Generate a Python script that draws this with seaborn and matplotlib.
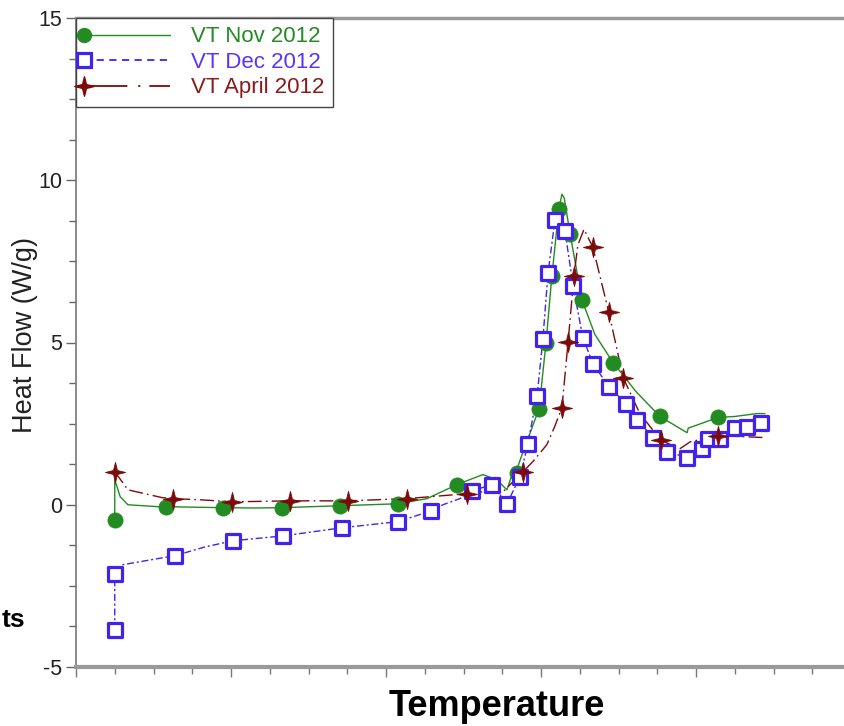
import numpy as np
import pandas as pd
import matplotlib
matplotlib.use("Agg")
import matplotlib.pyplot as plt
from matplotlib.lines import Line2D
from matplotlib.path import Path
import seaborn as sns

# ---------------- data ----------------
series_labels = ["VT Nov 2012", "VT Dec 2012", "VT April 2012"]

# markers
nov_x = [1.0, 2.32, 3.79, 5.32, 6.81, 8.31, 9.83, 11.38, 11.95, 12.13, 12.28, 12.46, 12.75, 13.06, 13.86, 15.07, 16.57]
nov_y = [-0.46, -0.06, -0.09, -0.09, -0.03, 0.03, 0.62, 0.99, 2.96, 5.00, 7.04, 9.10, 8.35, 6.30, 4.38, 2.72, 2.69]

dec_x = [1.0, 1.0, 2.55, 4.05, 5.34, 6.86, 8.31, 9.16, 10.22, 10.74, 11.12, 11.46, 11.66, 11.90, 12.05, 12.18,
         12.36, 12.62, 12.83, 13.08, 13.34, 13.75, 14.19, 14.48, 14.89, 15.25, 15.77, 16.15, 16.31, 16.62, 17.01, 17.32, 17.68]
dec_y = [-3.86, -2.13, -1.57, -1.11, -0.96, -0.71, -0.52, -0.19, 0.43, 0.62, 0.03, 0.86, 1.88, 3.36, 5.12, 7.13,
         8.77, 8.43, 6.73, 5.15, 4.35, 3.64, 3.12, 2.62, 2.07, 1.64, 1.45, 1.73, 2.04, 2.04, 2.35, 2.41, 2.53]

apr_x = [1.0, 2.50, 4.03, 5.52, 7.02, 8.54, 10.09, 11.54, 12.54, 12.70, 12.85, 13.34, 13.75, 14.12, 15.10, 16.57]
apr_y = [1.02, 0.19, 0.09, 0.12, 0.12, 0.19, 0.34, 1.02, 2.99, 5.03, 7.04, 7.93, 5.93, 3.92, 1.98, 2.13]

# traced curves
nov_line_x = [1.0, 1.0, 1.14, 1.34, 2.12, 2.32, 3.79, 4.6, 5.32, 6.81, 8.31, 9.06, 9.83, 10.50, 10.86, 11.12, 11.28,
              11.38, 11.51, 11.95, 12.13, 12.28, 12.46, 12.54, 12.60, 12.75, 13.06, 13.39, 13.86, 14.45, 15.07, 15.77,
              15.80, 16.57, 17.00, 17.57, 17.78]
nov_line_y = [-0.46, 0.77, 0.25, 0.0, -0.06, -0.06, -0.09, -0.10, -0.09, -0.03, 0.03, 0.19, 0.62, 0.93, 0.77, 0.46, 1.02,
              1.10, 1.54, 2.96, 5.00, 7.04, 9.10, 9.57, 9.45, 8.35, 6.30, 5.25, 4.38, 3.49, 2.72, 2.22,
              2.36, 2.69, 2.72, 2.81, 2.81]

dec_line_x = [1.0, 1.0, 1.19, 2.55, 3.33, 4.05, 5.34, 6.86, 8.31, 9.16, 9.47, 9.91, 10.22, 10.74, 11.12, 11.46, 11.66,
              11.90, 12.05, 12.18, 12.36, 12.43, 12.50, 12.62, 12.83, 13.08, 13.34, 13.75, 14.19, 14.48, 14.89, 15.25,
              15.77, 16.15, 16.31, 16.62, 17.01, 17.32, 17.68]
dec_line_y = [-3.86, -2.13, -1.85, -1.57, -1.30, -1.11, -0.96, -0.71, -0.52, -0.19, 0.0, 0.19, 0.43, 0.62, 0.03, 0.86, 1.88,
              3.36, 5.12, 7.13, 8.77, 8.95, 8.85, 8.43, 6.73, 5.15, 4.35, 3.64, 3.12, 2.62, 2.07, 1.64,
              1.45, 1.73, 2.04, 2.04, 2.35, 2.41, 2.53]

apr_line_x = [1.0, 1.34, 2.22, 2.50, 3.25, 4.03, 5.52, 7.02, 8.54, 10.09, 10.50, 11.02, 11.46, 11.54, 11.79, 12.15,
              12.35, 12.54, 12.70, 12.85, 12.95, 13.11, 13.34, 13.75, 14.12, 14.55, 15.10, 15.59, 15.85, 16.57, 17.78]
apr_line_y = [1.02, 0.46, 0.22, 0.19, 0.15, 0.09, 0.12, 0.12, 0.19, 0.34, 0.40, 0.40, 0.93, 1.02, 1.33, 1.85,
              2.40, 2.99, 5.03, 7.04, 8.00, 8.49, 7.93, 5.93, 3.92, 2.81, 1.98, 1.73, 1.94, 2.13, 2.07]

y_ticks = [-5, 0, 5, 10, 15]
y_tick_labels = ["-5", "0", "5", "10", "15"]

# ---------------- style ----------------
sns.set_theme(style="white")
plt.rcParams["font.family"] = ["Liberation Sans", "DejaVu Sans"]

c_nov = "#228b22"
c_dec = "#4422ee"
c_apr = "#7d0a0a"
spine_c = "#9a9a9a"

# slim four-pointed star marker
_ang = np.deg2rad(np.arange(90, 450, 45))
_rad = np.array([1.0, 0.28] * 4)
_verts = np.column_stack([_rad * np.cos(_ang), _rad * np.sin(_ang)])
_verts = np.vstack([_verts, _verts[:1]])
star4 = Path(_verts, closed=True)

fig = plt.figure(figsize=(8.44, 7.26), dpi=100)
ax = fig.add_axes([76 / 844, 59 / 726, 775 / 844, 649 / 726])

# lines
sns.lineplot(x=nov_line_x, y=nov_line_y, ax=ax, sort=False, estimator=None, color=c_nov, lw=1.0, zorder=2)
sns.lineplot(x=dec_line_x, y=dec_line_y, ax=ax, sort=False, estimator=None, color=c_dec, lw=1.0, zorder=3)
ax.lines[-1].set_dashes((5, 2, 1.5, 2))
sns.lineplot(x=apr_line_x, y=apr_line_y, ax=ax, sort=False, estimator=None, color=c_apr, lw=1.0, zorder=4)
ax.lines[-1].set_dashes((10, 3, 1.2, 3))

# markers
sns.scatterplot(x=nov_x, y=nov_y, ax=ax, color=c_nov, s=120, marker="o", edgecolor=c_nov, linewidth=0.5, zorder=5)
sns.scatterplot(x=dec_x, y=dec_y, ax=ax, s=105, marker="s", facecolor="white", edgecolor=c_dec, linewidth=2.3, zorder=6)
sns.scatterplot(x=apr_x, y=apr_y, ax=ax, color=c_apr, s=210, marker=star4, edgecolor=c_apr, linewidth=0.6, zorder=7)

ax.set_xlim(0, 20)
ax.set_ylim(-5, 15)
ax.set_xlabel("")
ax.set_ylabel("")

ax.set_yticks(y_ticks)
ax.set_yticklabels(y_tick_labels)
ax.set_yticks(np.arange(-5, 15.01, 1.25), minor=True)
ax.set_xticks(np.arange(0, 20.01, 4))
ax.set_xticks(np.arange(0, 20.01, 1), minor=True)
ax.set_xticklabels([])

ax.tick_params(axis="y", which="major", direction="out", length=7, width=1, color="#666666",
               labelsize=15.5, labelcolor="#222222", pad=3, left=True)
ax.tick_params(axis="y", which="minor", direction="out", length=5, width=1, color="#666666", left=True)
ax.tick_params(axis="x", which="major", direction="out", length=7, width=1, color="#777777", bottom=True)
ax.tick_params(axis="x", which="minor", direction="out", length=5, width=1, color="#777777", bottom=True)

for side in ["left", "top", "bottom", "right"]:
    ax.spines[side].set_visible(True)
ax.spines["left"].set_color("#777777")
ax.spines["left"].set_linewidth(1.2)
ax.spines["top"].set_color(spine_c)
ax.spines["top"].set_linewidth(2.5)
ax.spines["bottom"].set_color(spine_c)
ax.spines["bottom"].set_linewidth(3.0)
ax.spines["right"].set_visible(False)

# legend
handles = [
    Line2D([], [], color=c_nov, lw=1.0, marker="o", markersize=10, markerfacecolor=c_nov, markeredgecolor=c_nov),
    Line2D([], [], color=c_dec, lw=1.3, ls=(0, (4, 3)), marker="s", markersize=10, markerfacecolor="white",
           markeredgecolor=c_dec, markeredgewidth=2.3),
    Line2D([], [], color=c_apr, lw=1.3, ls=(0, (24, 6, 1.2, 5)), marker=star4, markersize=14,
           markerfacecolor=c_apr, markeredgecolor=c_apr),
]
leg = ax.legend(handles, series_labels, loc="upper left", bbox_to_anchor=(0, 1), borderaxespad=0,
                fontsize=16, frameon=True, fancybox=False, edgecolor="#444444", framealpha=1,
                numpoints=1, handlelength=3.85, handletextpad=0.95, borderpad=0.38, labelspacing=0.2,
                labelcolor=[c_nov, "#5a33ff", "#8b1a1a"])
leg.get_frame().set_linewidth(1.0)
for ln in leg.get_lines():
    ln.set_markevery([0])
leg.set_zorder(10)

# texts
fig.text(25 / 844, 1 - 335 / 726, "Heat Flow (W/g)", rotation=90, ha="center", va="center",
         fontsize=19.5, color="#222222")
fig.text(497 / 844, 1 - 706 / 726, "Temperature", ha="center", va="center", fontsize=26,
         fontweight="bold", color="black")
fig.text(25 / 844, 1 - 620 / 726, "ts", ha="right", va="center", fontsize=19, fontweight="bold", color="black")

fig.savefig("out.png", dpi=100)
